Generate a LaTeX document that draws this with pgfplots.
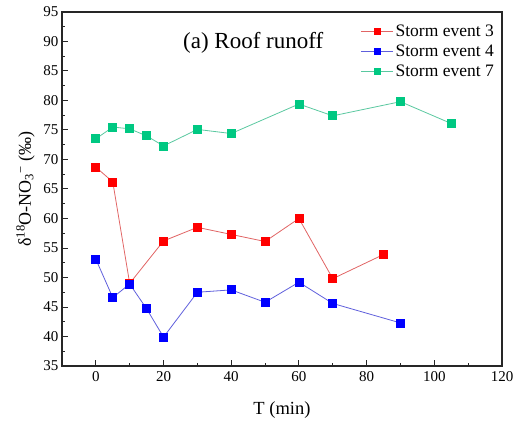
\documentclass[border=0pt]{standalone}
\usepackage{pgfplots}
\pgfplotsset{compat=1.18}
\usepackage{fontspec}
\setmainfont{Liberation Serif}

\definecolor{s3mark}{RGB}{255,0,0}
\definecolor{s3line}{RGB}{225,100,100}
\definecolor{s4mark}{RGB}{0,0,255}
\definecolor{s4line}{RGB}{95,95,220}
\definecolor{s7mark}{RGB}{0,200,130}
\definecolor{s7line}{RGB}{90,200,160}

\begin{document}
\begin{tikzpicture}
\begin{axis}[
    name=ax,
    scale only axis,
    width=440bp, height=354bp,
    xmin=-10, xmax=120, ymin=35, ymax=95,
    xtick={0,20,...,120}, ytick={35,40,...,95},
    minor x tick num=1, minor y tick num=1,
    xtick pos=bottom, ytick pos=left,
    tick align=inside,
    major tick length=6bp, minor tick length=3.5bp,
    axis line style={line width=1.1bp, black!85},
    tick style={line width=1bp, black!85},
    ticklabel style={font=\fontsize{15bp}{17bp}\selectfont},
    xticklabel style={yshift=-2bp},
    /pgf/number format/assume math mode=true,
    xlabel={T (min)},
    ylabel={δ\textsuperscript{18}O-NO\textsubscript{3}\textsuperscript{−} (‰)},
    xlabel style={font=\fontsize{18.5bp}{20bp}\selectfont, yshift=-13bp},
    ylabel style={font=\fontsize{18bp}{20bp}\selectfont, yshift=2bp},
    legend style={at={(1,1)}, anchor=north east, xshift=-3bp, yshift=-9bp,
        draw=none, fill=none, font=\fontsize{17.5bp}{19bp}\selectfont,
        row sep=3bp},
    legend cell align=left,
    legend image code/.code={
        \draw[mark repeat=2, mark phase=2, mark size=3bp]
        plot coordinates {(0bp,0bp) (16bp,0bp) (32bp,0bp)};},
    every axis plot/.append style={line width=0.8bp, mark=square*, mark size=4bp},
]
\addplot[color=s3line, mark options={draw=s3mark, fill=s3mark}] coordinates {
    (0,68.7) (5,66.2) (10,49.0) (20,56.2) (30,58.5) (40,57.3)
    (50,56.1) (60,60.0) (70,49.8) (85,53.9)
};
\addplot[color=s4line, mark options={draw=s4mark, fill=s4mark}] coordinates {
    (0,53.1) (5,46.6) (10,48.9) (15,44.7) (20,39.9) (30,47.5)
    (40,47.9) (50,45.8) (60,49.2) (70,45.6) (90,42.3)
};
\addplot[color=s7line, mark options={draw=s7mark, fill=s7mark}] coordinates {
    (0,73.5) (5,75.5) (10,75.2) (15,74.0) (20,72.3) (30,75.1)
    (40,74.4) (60,79.4) (70,77.4) (90,79.8) (105,76.1)
};
\legend{Storm event 3, Storm event 4, Storm event 7}
\node[font=\fontsize{23bp}{25bp}\selectfont] at (axis cs:46.5,89.7) {(a) Roof runoff};
\end{axis}
\pgfresetboundingbox
\path ([shift={(-62bp,-61bp)}]ax.south west) rectangle ([shift={(13bp,12bp)}]ax.north east);
\end{tikzpicture}
\end{document}
